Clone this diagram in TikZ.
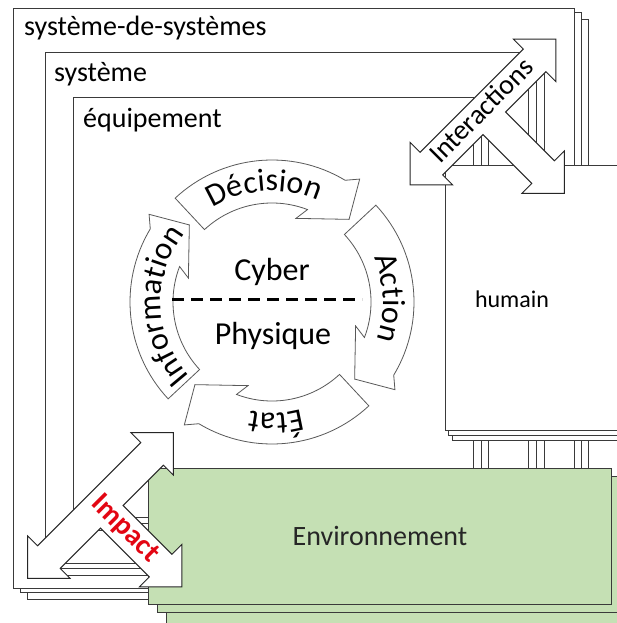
\documentclass[tikz,border=0pt]{standalone}
\usepackage{fontspec}
\setmainfont{Carlito}
\usetikzlibrary{decorations.text}
\definecolor{envgreen}{HTML}{C5E0B4}
\definecolor{impred}{HTML}{E30613}
\definecolor{ln}{HTML}{3A3A3A}
\newcommand\cycfont{\fontsize{32}{38}\selectfont}
\newcommand\mystack[9]{%
  \draw[#1] ({#2+#8},{-#3-#9}) rectangle ({#4+#8},{-#5-#9});
  \draw[#1] ({#2+#6},{-#3-#7}) rectangle ({#4+#6},{-#5-#7});
  \draw[#1] (#2,-#3) rectangle (#4,-#5);}
\newcommand\cycarr[2]{%
  \draw[cyc] (#1:142) arc[start angle=#1, end angle={#2+12}, radius=142]
    -- ({#2+7.5}:151) -- (#2:113) -- ({#2+27}:87) -- ({#2+22}:99)
    arc[start angle={#2+22}, end angle=#1, radius=99] -- cycle;}
\newcommand\arctext[3]{%
  \path[decorate, color=black, decoration={text along path, text align=center,
      text={|\cycfont|#2}}]
    ({#1+70}:#3) arc[start angle={#1+70}, end angle={#1-70}, radius=#3];}
\newcommand\tarrow{%
  \draw[blockarrow] (103,0) -- (73,30) -- (73,16) -- (-73,16) -- (-73,30)
    -- (-103,0) -- (-73,-30) -- (-73,-16) -- (-16,-16) -- (-16,-85)
    -- (-30,-85) -- (0,-115) -- (30,-85) -- (16,-85) -- (16,-16)
    -- (73,-16) -- (73,-30) -- cycle;}
\tikzset{
  box/.style={draw=ln, fill=white, line width=0.9pt},
  greenbox/.style={draw=ln, fill=envgreen, line width=0.9pt},
  blockarrow/.style={draw=black!85, fill=white, line width=0.9pt, line join=miter},
  cyc/.style={draw=black!65, fill=white, line width=0.8pt, line join=miter},
  lab/.style={font=\fontsize{28}{34}\selectfont, anchor=base west, inner sep=0pt, text=black},
  midtext/.style={font=\fontsize{32}{38}\selectfont, anchor=base, inner sep=0pt, text=black},
}
\begin{document}
\begin{tikzpicture}[x=1pt,y=1pt]
\useasboundingbox (0,0) rectangle (617,-623);
\clip (0,0) rectangle (617,-623);
\fill[white] (0,0) rectangle (617,-623);
% nested stacks
\mystack{box}{13}{8}{574}{588}{7.5}{4.5}{14.5}{11}
\node[lab] (sos) at (24,-36) {système-de-systèmes};
\mystack{box}{45}{52}{528}{563}{8}{5}{16}{12}
\node[lab] (sys) at (54,-82) {système};
\mystack{box}{73}{97}{473}{517}{8}{6}{15}{13}
\node[lab] (equip) at (83,-128) {équipement};
% cycle
\begin{scope}[shift={(272,-302)}]
  \cycarr{133}{47}
  \cycarr{43}{-43}
  \cycarr{-47}{-133}
  \cycarr{-137}{-223}
  \arctext{94}{Décision}{111}
  \arctext{2}{Action}{111}
  \arctext{-88}{État}{111}
  \arctext{182}{Information}{111}
\end{scope}
\coordinate (dl) at (172,-299);
\coordinate (dr) at (362,-299);
\draw[line width=3pt, dash pattern=on 12pt off 7pt] (dl) -- (dr);
\node[midtext] (cyber) at (272,-280) {Cyber};
\node[midtext] (phys) at (273,-344) {Physique};
% humain
\mystack{box}{445}{165}{660}{430}{3.5}{5}{7}{10}
\node[font=\fontsize{24}{29}\selectfont, anchor=base, inner sep=0pt] (humain) at (512,-307) {humain};
% interactions arrow
\begin{scope}[shift={(483,-112)}, rotate=45]
  \tarrow
\end{scope}
\node[rotate=45, font=\fontsize{28}{34}\selectfont, inner sep=0pt] (inter) at (481,-110) {Interactions};
% environnement
\mystack{greenbox}{148}{468}{611}{604}{9}{8}{18}{20}
\node[font=\fontsize{28}{34}\selectfont, anchor=base, inner sep=0pt, text=black!85] (env) at (380,-545) {Environnement};
% impact arrow
\begin{scope}[shift={(100.5,-505.5)}, rotate=45]
  \tarrow
\end{scope}
\node[rotate=-45, font=\bfseries\fontsize{29}{34}\selectfont, text=impred, inner sep=0pt] (impact) at (125,-529) {Impact};
\end{tikzpicture}
\end{document}
